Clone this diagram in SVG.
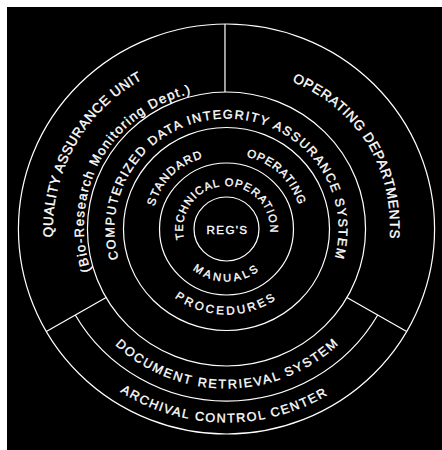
<svg xmlns="http://www.w3.org/2000/svg" width="442" height="450" viewBox="0 0 442 450">
  <style>
    .ring { fill: none; stroke: #ffffff; stroke-width: 1.2; }
    .lbl { fill: #ffffff; stroke: #ffffff; stroke-width: 0.35; font-family: "Liberation Sans", Arial, sans-serif; font-weight: normal; }
  </style>
  <defs>
    <path id="pQA" d="M149.3,83.4 A171,171 0 0 1 -149.3,-83.4 A171,171 0 0 1 149.3,83.4"/>
    <path id="pBio" d="M123.8,69.5 A142,142 0 0 1 -123.8,-69.5 A142,142 0 0 1 123.8,69.5"/>
    <path id="pOD" d="M-139.1,84.9 A163,163 0 0 1 139.1,-84.9 A163,163 0 0 1 -139.1,84.9"/>
    <path id="pCD" d="M0,110.5 A110.5,110.5 0 0 1 0,-110.5 A110.5,110.5 0 0 1 0,110.5"/>
    <path id="pSTD" d="M53.7,53.7 A76,76 0 0 1 -53.7,-53.7 A76,76 0 0 1 53.7,53.7"/>
    <path id="pOPR" d="M-52.2,55.2 A76,76 0 0 1 52.2,-55.2 A76,76 0 0 1 -52.2,55.2"/>
    <path id="pTEC" d="M3.0,42.9 A43,43 0 0 1 -3.0,-42.9 A43,43 0 0 1 3.0,42.9"/>
    <path id="pPRO" d="M0.3,-85.5 A85.5,85.5 0 0 0 -0.3,85.5 A85.5,85.5 0 0 0 0.3,-85.5"/>
    <path id="pMAN" d="M-0.37,-52.5 A52.5,52.5 0 0 0 0.37,52.5 A52.5,52.5 0 0 0 -0.37,-52.5"/>
    <path id="pDRS" d="M-1.1,-159.5 A159.5,159.5 0 0 0 1.1,159.5 A159.5,159.5 0 0 0 -1.1,-159.5"/>
    <path id="pACC" d="M2.4,-193.5 A193.5,193.5 0 0 0 -2.4,193.5 A193.5,193.5 0 0 0 2.4,-193.5"/>
  </defs>
  <rect x="0" y="0" width="442" height="450" fill="#ffffff"/>
  <rect x="7" y="7" width="435" height="443" fill="#000000"/>
  <g transform="translate(226.5,229) scale(1.015,1)">
    <g id="connectors">
      <line class="ring" x1="-1.5" y1="-205" x2="-1.5" y2="-137"/>
      <line class="ring" x1="118.6" y1="68.5" x2="177.5" y2="102.5"/>
      <line class="ring" x1="-118.6" y1="68.5" x2="-177.5" y2="102.5"/>
    </g>
    <g id="outer-ring">
      <circle class="ring" cx="0" cy="0" r="205"/>
    </g>
    <g id="quality-assurance">
      <text class="lbl" font-size="13.5" letter-spacing="0.5"><textPath href="#pQA" startOffset="50%" text-anchor="middle">QUALITY ASSURANCE UNIT</textPath></text>
      <text class="lbl" font-size="13" letter-spacing="1.4"><textPath href="#pBio" startOffset="50%" text-anchor="middle">(Bio-Research Monitoring Dept.)</textPath></text>
    </g>
    <g id="operating-departments">
      <text class="lbl" font-size="13.5" letter-spacing="0.7"><textPath href="#pOD" startOffset="50%" text-anchor="middle">OPERATING DEPARTMENTS</textPath></text>
    </g>
    <g id="cdias">
      <circle class="ring" cx="0" cy="0" r="137"/>
      <text class="lbl" font-size="12.5" letter-spacing="1.55"><textPath href="#pCD" startOffset="50%" text-anchor="middle">COMPUTERIZED DATA INTEGRITY ASSURANCE SYSTEM</textPath></text>
    </g>
    <g id="sop">
      <circle class="ring" cx="0" cy="0" r="101.5"/>
      <text class="lbl" font-size="11.5" letter-spacing="1.25"><textPath href="#pSTD" startOffset="50%" text-anchor="middle">STANDARD</textPath></text>
      <text class="lbl" font-size="11.5" letter-spacing="0.9"><textPath href="#pOPR" startOffset="50%" text-anchor="middle">OPERATING</textPath></text>
      <text class="lbl" font-size="11.5" letter-spacing="2.75"><textPath href="#pPRO" startOffset="50%" text-anchor="middle">PROCEDURES</textPath></text>
    </g>
    <g id="tom">
      <circle class="ring" cx="0" cy="0" r="66"/>
      <text class="lbl" font-size="11" letter-spacing="1.1"><textPath href="#pTEC" startOffset="50%" text-anchor="middle">TECHNICAL OPERATION</textPath></text>
      <text class="lbl" font-size="11" letter-spacing="2.8"><textPath href="#pMAN" startOffset="50%" text-anchor="middle">MANUALS</textPath></text>
    </g>
    <g id="regs">
      <circle class="ring" cx="0" cy="0" r="32"/>
      <text class="lbl" font-size="11.5" letter-spacing="1.3" x="1" y="5" text-anchor="middle">REG'S</text>
    </g>
    <g id="document-retrieval">
      <path class="ring" d="M149,86 A172,172 0 0 1 -149,86"/>
      <text class="lbl" font-size="12.5" letter-spacing="1.85"><textPath href="#pDRS" startOffset="50%" text-anchor="middle">DOCUMENT RETRIEVAL SYSTEM</textPath></text>
    </g>
    <g id="archival-control">
      <text class="lbl" font-size="12.5" letter-spacing="1.6"><textPath href="#pACC" startOffset="50%" text-anchor="middle">ARCHIVAL CONTROL CENTER</textPath></text>
    </g>
  </g>
</svg>
